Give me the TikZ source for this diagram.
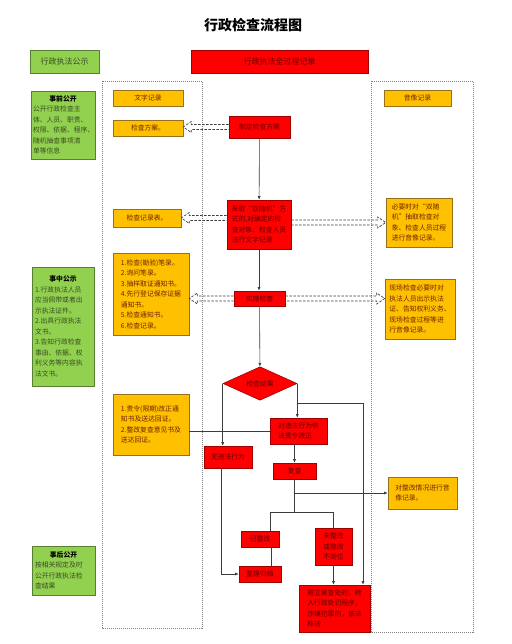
\documentclass[tikz,border=0pt]{standalone}
\usepackage{fontspec}
\newfontfamily\cjk{Noto Sans CJK SC}
\usepackage{xcolor}
\definecolor{pubfill}{RGB}{146,208,80}
\definecolor{publine}{RGB}{88,128,52}
\definecolor{pubtext}{RGB}{55,75,35}
\definecolor{recfill}{RGB}{255,192,0}
\definecolor{recline}{RGB}{150,112,30}
\definecolor{rectext}{RGB}{110,35,0}
\definecolor{actfill}{RGB}{255,0,0}
\definecolor{actline}{RGB}{160,0,0}
\definecolor{acttext}{RGB}{95,0,0}
\definecolor{wire}{RGB}{60,60,60}
\usetikzlibrary{positioning,shapes.geometric,calc,arrows.meta}

% dashed hollow arrow between two points at the same height
\newcommand\hollowarrow[3]{%
  \draw[blockarr] ($(#1)+(0,-2.5)$) -- ($(#2)+(#3,-2.5)$) -- ($(#2)+(#3,-5.5)$)
    -- (#2) -- ($(#2)+(#3,5.5)$) -- ($(#2)+(#3,2.5)$) -- ($(#1)+(0,2.5)$);}

\begin{document}
\begin{tikzpicture}[
        x=1pt, y=-1pt,
        sz/.style 2 args={minimum width=#1pt, minimum height=#2pt},
        base/.style={rectangle, inner sep=2pt, line width=0.6pt, font=\cjk\fontsize{6.8}{10.5}\selectfont},
        pub/.style={base, draw=publine, fill=pubfill, text=pubtext},
        rec/.style={base, draw=recline, fill=recfill, text=rectext},
        act/.style={base, draw=actline, fill=actfill, text=acttext},
        head/.style={font=\cjk\fontsize{8}{10}\selectfont},
        arr/.style={-{Latex[length=3.5pt,width=3pt]}, line width=0.6pt, wire},
        wireline/.style={line width=0.6pt, wire},
        blockarr/.style={dash pattern=on 2.5pt off 1.5pt, line width=0.7pt, wire},
        lane/.style={draw=gray, dash pattern=on 1pt off 1pt, line width=0.5pt}
    ]
    \useasboundingbox (0,0) rectangle (511,644);
    \node[font=\cjk\bfseries\fontsize{14}{16}\selectfont] (title) at (253,25) {行政检查流程图};
    \node[pub, head, sz={69}{23}] (hdrpub) at (64.5,61.5) {行政执法公示};
    \node[act, head, sz={177}{23}] (hdrrec) at (279.5,61.5) {行政执法全过程记录};

    % swim lanes
    \draw[lane] (102,81) rectangle (202,628);
    \draw[lane] (371,81) rectangle (473,632);

    % publicity column
    \node[pub, sz={64}{68}, text width=60pt, align=left] (pre) at (63,125)
        {\hfill\textbf{\color{black}事前公开}\hfill\null\\公开行政检查主\\体、人员、职责、\\权限、依据、程序、\\随机抽查事项清\\单等信息};
    \node[pub, sz={62}{119}, text width=56pt, align=left] (mid) at (63,326.5)
        {\hfill\textbf{\color{black}事中公示}\hfill\null\\1.行政执法人员\\应当佩带或者出\\示执法证件。\\2.出具行政执法\\文书。\\3.告知行政检查\\事由、依据、权\\利义务等内容执\\法文书。};
    \node[pub, sz={63}{49}, text width=57pt, align=left] (post) at (63.5,570.5)
        {\hfill\textbf{\color{black}事后公开}\hfill\null\\按相关规定及时\\公开行政执法检\\查结果};

    % written records
    \node[rec, sz={70}{16}] (txtrec) at (148,98) {文字记录};
    \node[rec, sz={70}{16}] (planrec) at (148,128) {检查方案。};
    \node[rec, sz={68}{18}] (pickrec) at (147,218) {检查记录表。};
    \node[rec, sz={76}{82}, align=left] (docrec) at (151,294)
        {1.检查(勘验)笔录。\\2.询问笔录。\\3.抽样取证通知书。\\4.先行登记保存证据\\通知书。\\5.检查通知书。\\6.检查记录。};
    \node[rec, sz={76}{61}, align=left] (order) at (151,424.5)
        {1.责令(限期)改正通\\知书及送达回证。\\2.整改复查意见书及\\送达回证。};

    % audio-visual records
    \node[rec, sz={67}{16}] (avrec) at (417.5,98) {音像记录};
    \node[rec, sz={66}{49}, align=left] (pickav) at (419,222.5)
        {必要时对“双随\\机”抽取检查对\\象、检查人员过程\\进行音像记录。};
    \node[rec, sz={70}{60}, align=left] (execav) at (420,309)
        {现场检查必要时对\\执法人员出示执法\\证、告知权利义务、\\现场检查过程等进\\行音像记录。};
    \node[rec, sz={69}{32}, align=left] (recheckav) at (422.5,493)
        {对整改情况进行音\\像记录。};

    % main flow
    \node[act, sz={61}{22}] (plan) at (259.5,127) {制定检查方案};
    \node[act, sz={64}{49}, align=left] (pick) at (259,224.5)
        {采取“双随机”方\\式的,对确定的检\\查对象、检查人员\\进行文字记录};
    \node[act, sz={51}{15}] (exec) at (259.5,298.5) {实施检查};
    \node[act, diamond, minimum width=74pt, minimum height=31pt, inner sep=0pt] (result) at (260,383.5) {检查结果};
    \node[act, sz={57}{26}, align=left] (correct) at (298.5,431) {对违法行为依\\法责令改正};
    \node[act, sz={48}{22}] (clean) at (228,457) {无违法行为};
    \node[act, sz={43}{16}] (recheck) at (294.5,471) {复查};
    \node[act, sz={38}{16}] (fixed) at (260,539) {已整改};
    \node[act, sz={37}{37}, align=center] (unfixed) at (333.5,546.5) {未整改\\或整改\\不到位};
    \node[act, sz={42}{16}] (archive) at (260,574) {整理归档};
    \node[act, sz={71}{47}, align=left] (transfer) at (334.5,608.5)
        {需立案查处的，转\\入行政处罚程序，\\涉嫌犯罪的，依法\\移送};

    % links to the records
    \hollowarrow{plan.west}{planrec.east |- plan.west}{8}
    \hollowarrow{pick.west |- pickrec.east}{pickrec.east}{8}
    \hollowarrow{pick.east |- pickav.west}{pickav.west}{-8}
    \hollowarrow{exec.west}{docrec.east |- exec.west}{8}
    \hollowarrow{exec.east}{execav.west |- exec.east}{-8}

    % flow
    \draw[arr] (plan) -- (pick);
    \draw[arr] (pick.south) -- (pick.south |- exec.north);
    \draw[arr] (exec) -- (result);
    \draw[arr] (result.east) -- (result.east |- correct.north);
    \draw[arr] (result.west) -- (result.west |- clean.north);
    \coordinate (tap) at ($(result.east)+(0,19.5)$);
    \coordinate (bend) at (363,403);
    \draw[arr] (tap) -- (bend) -- (bend |- transfer.north);
    \draw[wireline] (correct.west) -- (correct.west -| order.east);
    \draw[arr] (correct.south -| recheck.north) -- (recheck.north);
    \coordinate (split) at ($(recheck.south)+(0,33)$);
    \draw[wireline] (recheck.south) -- (split);
    \draw[arr] (recheck.south |- recheckav.west) -- (recheckav.west);
    \draw[wireline] ([xshift=10pt]fixed.north) |- (split) -| (unfixed.north);
    \draw[wireline] ([xshift=11pt]fixed.south) -- ([xshift=11pt]archive.north);
    \draw[arr] ([xshift=-7pt]clean.south) |- (archive.west);
    \draw[arr] (unfixed.south) -- (unfixed.south |- transfer.north);
\end{tikzpicture}
\end{document}
